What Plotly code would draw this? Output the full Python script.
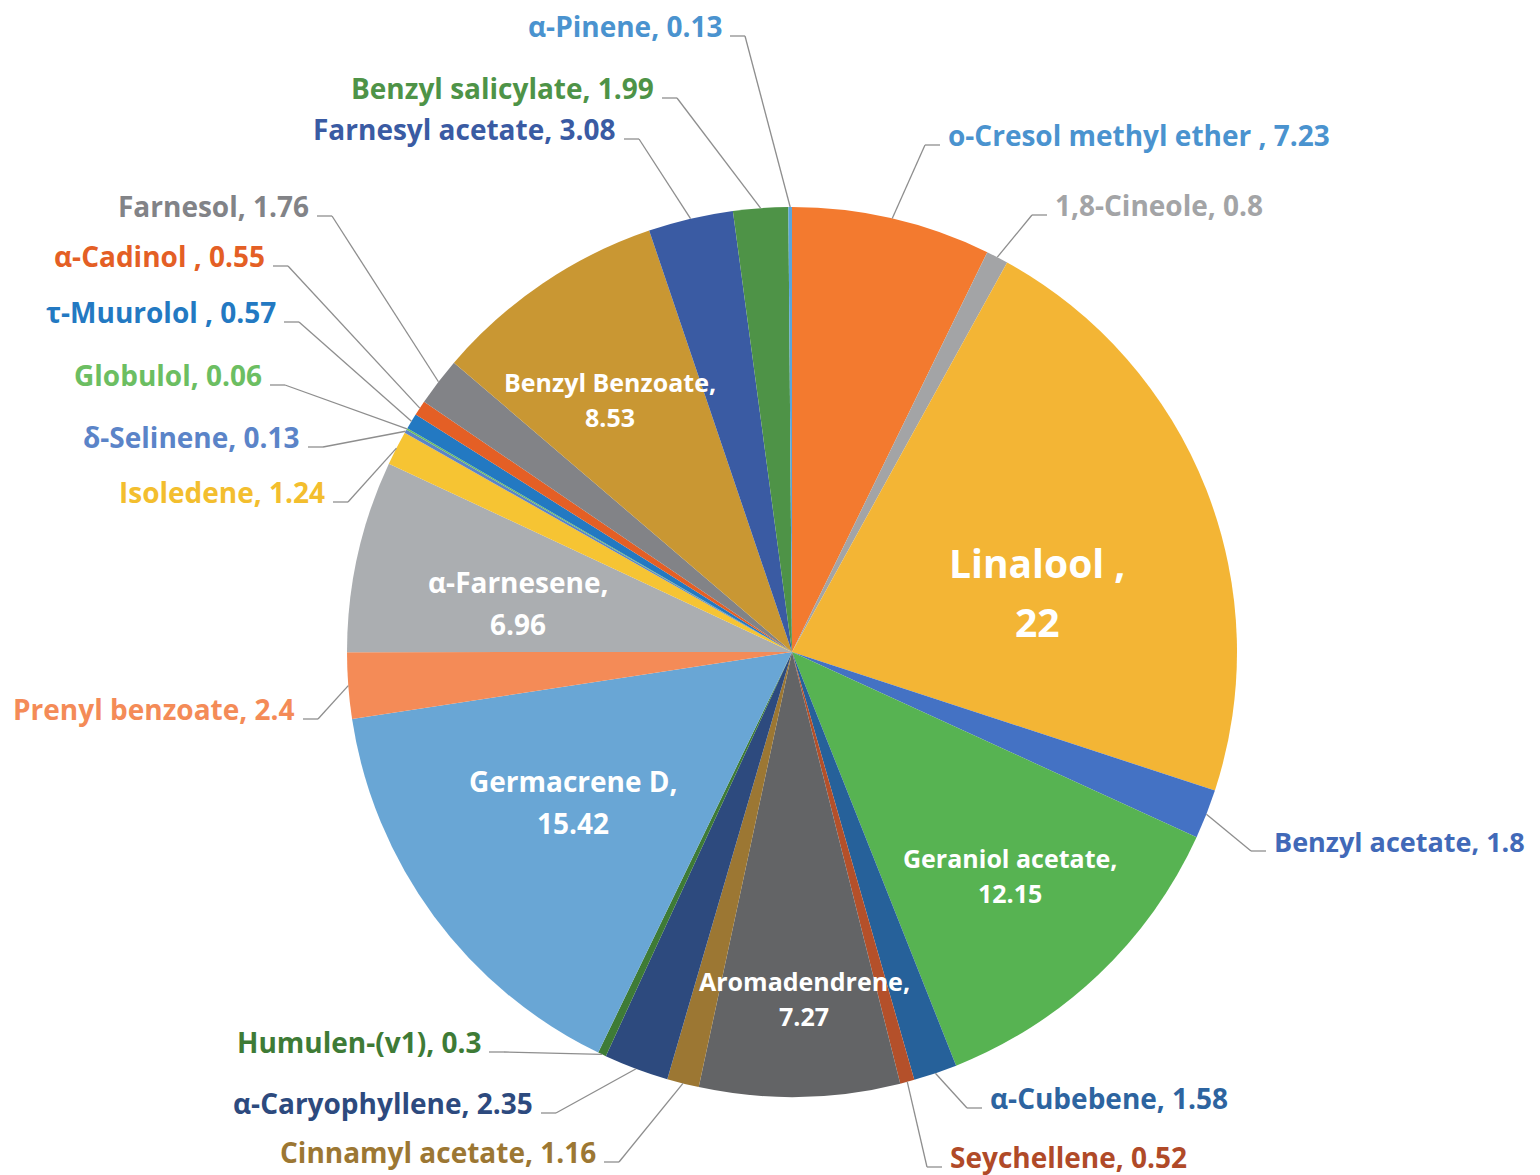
import math
import plotly.graph_objects as go

# ---------------- data ----------------
compounds = [
    "o-Cresol methyl ether", "1,8-Cineole", "Linalool", "Benzyl acetate",
    "Geraniol acetate", "α-Cubebene", "Seychellene", "Aromadendrene",
    "Cinnamyl acetate", "α-Caryophyllene", "Humulen-(v1)", "Germacrene D",
    "Prenyl benzoate", "α-Farnesene", "Isoledene", "δ-Selinene", "Globulol",
    "τ-Muurolol", "α-Cadinol", "Farnesol", "Benzyl Benzoate",
    "Farnesyl acetate", "Benzyl salicylate", "α-Pinene",
]
percent = [
    7.23, 0.8, 22, 1.8, 12.15, 1.58, 0.52, 7.27, 1.16, 2.35, 0.3, 15.42,
    2.4, 6.96, 1.24, 0.13, 0.06, 0.57, 0.55, 1.76, 8.53, 3.08, 1.99, 0.13,
]
label_texts = [
    "o-Cresol methyl ether , 7.23", "1,8-Cineole, 0.8", "Linalool ,|22",
    "Benzyl acetate, 1.8", "Geraniol acetate,|12.15", "α-Cubebene, 1.58",
    "Seychellene, 0.52", "Aromadendrene,|7.27", "Cinnamyl acetate, 1.16",
    "α-Caryophyllene, 2.35", "Humulen-(v1), 0.3", "Germacrene D,|15.42",
    "Prenyl benzoate, 2.4", "α-Farnesene,|6.96", "Isoledene, 1.24",
    "δ-Selinene, 0.13", "Globulol, 0.06", "τ-Muurolol , 0.57",
    "α-Cadinol , 0.55", "Farnesol, 1.76", "Benzyl Benzoate,|8.53",
    "Farnesyl acetate, 3.08", "Benzyl salicylate, 1.99", "α-Pinene, 0.13",
]

# ---------------- styles ----------------
slice_colors = [
    "#F37A2F", "#A3A4A6", "#F3B535", "#4472C4", "#57B352", "#26619A",
    "#B4502A", "#636466", "#9C7733", "#2D4A7E", "#3E7B36", "#69A6D5",
    "#F48B57", "#ABAEB1", "#F6C433", "#5B84C8", "#6CBE62", "#2379C2",
    "#E45F25", "#828387", "#C99733", "#3A5BA3", "#4E9347", "#5AA5DC",
]
text_colors = [
    "#4A93CF", "#A3A4A6", "white", "#4169B8", "white", "#2D64A0",
    "#B04A28", "white", "#9C7733", "#2D4A7E", "#3E7B36", "white",
    "#F48B57", "white", "#F3BE2E", "#5B84C8", "#6CBE62", "#2379C2",
    "#E45F25", "#828387", "white", "#3A5BA3", "#4E9347", "#4A93CF",
]

OFF = 8                      # page body margin
W, H = 1540 - OFF, 1175 - OFF
CX, CY, R = 792, 652, 445
FONT = "Open Sans"
FS = 28

# outside label placement: (side, text edge x px, text centre y px, size)
outside_pos = {
    "α-Pinene": ("L", 724, 26, FS),
    "Benzyl salicylate": ("L", 656, 88, FS),
    "Farnesyl acetate": ("L", 618, 129, FS),
    "Farnesol": ("L", 311, 206, FS),
    "α-Cadinol": ("L", 267, 256, FS),
    "τ-Muurolol": ("L", 278, 312, FS),
    "Globulol": ("L", 264, 375, FS),
    "δ-Selinene": ("L", 302, 437, FS),
    "Isoledene": ("L", 327, 492, FS),
    "Prenyl benzoate": ("L", 297, 709, FS),
    "Humulen-(v1)": ("L", 483, 1042, FS),
    "α-Caryophyllene": ("L", 535, 1103, FS),
    "Cinnamyl acetate": ("L", 598, 1152, FS),
    "o-Cresol methyl ether": ("R", 946, 135, FS),
    "1,8-Cineole": ("R", 1053, 205, FS),
    "Benzyl acetate": ("R", 1272, 841, 27),
    "α-Cubebene": ("R", 988, 1098, FS),
    "Seychellene": ("R", 948, 1157, FS),
}
# inside label placement: (centre x px, line1 y px, line2 y px, font size)
inside_pos = {
    "Linalool": (1037, 563, 621, 39),
    "Geraniol acetate": (1010, 858, 893, 25),
    "Aromadendrene": (804, 981, 1016, 25),
    "Germacrene D": (573, 781, 823, 28),
    "α-Farnesene": (518, 582, 624, 28),
    "Benzyl Benzoate": (610, 382, 417, 25),
}


def px(x):
    return (x - OFF) / W


def py(y):
    return 1 - (y - OFF) / H


fig = go.Figure(go.Pie(
    labels=compounds, values=percent, sort=False, direction="clockwise",
    rotation=0, textinfo="none", hoverinfo="label+value",
    marker=dict(colors=slice_colors, line=dict(width=0)),
    domain=dict(x=[px(CX - R), px(CX + R)], y=[py(CY + R), py(CY - R)]),
    showlegend=False,
))

annotations, shapes = [], []
total = sum(percent)
cum = 0.0
for name, val, txt, tcol in zip(compounds, percent, label_texts, text_colors):
    mid = (cum + val / 2) / total * 2 * math.pi
    cum += val
    if name in inside_pos:
        x, y1, y2, fs = inside_pos[name]
        l1, l2 = txt.split("|")
        for t, yy in ((l1, y1), (l2, y2)):
            annotations.append(dict(
                x=px(x), y=py(yy), xref="paper", yref="paper", text=t,
                showarrow=False, xanchor="center", yanchor="middle",
                font=dict(family=FONT, size=fs, color=tcol, weight="bold")))
        continue
    side, ex, ey, fs = outside_pos[name]
    sx = CX + R * math.sin(mid)
    sy = CY - R * math.cos(mid)
    ly = ey + 10
    if side == "L":
        h0, h1 = ex + 6, ex + 21
        xa = "right"
    else:
        h0, h1 = ex - 6, ex - 21
        xa = "left"
    shapes.append(dict(type="line", xref="paper", yref="paper",
                       x0=px(h0), y0=py(ly), x1=px(h1), y1=py(ly),
                       line=dict(color="#8E8E8E", width=1.3)))
    shapes.append(dict(type="line", xref="paper", yref="paper",
                       x0=px(h1), y0=py(ly), x1=px(sx), y1=py(sy),
                       line=dict(color="#8E8E8E", width=1.3)))
    annotations.append(dict(
        x=px(ex), y=py(ey), xref="paper", yref="paper", text=txt,
        showarrow=False, xanchor=xa, yanchor="middle",
        font=dict(family=FONT, size=fs, color=tcol, weight="bold")))

fig.update_layout(
    width=W, height=H, margin=dict(l=0, r=0, t=0, b=0),
    paper_bgcolor="white", plot_bgcolor="white",
    annotations=annotations, shapes=shapes,
)
fig.write_html("out.html")
